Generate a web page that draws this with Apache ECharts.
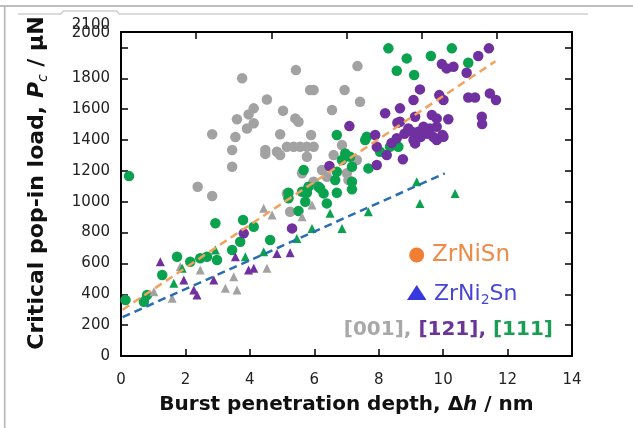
<!DOCTYPE html>
<html><head><meta charset="utf-8">
<script src="https://cdn.jsdelivr.net/npm/echarts@6/dist/echarts.min.js"></script>
<style>html,body{margin:0;padding:0;background:#fff}#c{width:633px;height:428px}</style>
</head><body><div id="c"></div>
<script>
// ---- data (x = burst depth nm, y = critical load uN) ----
const gray001Circle = [[3.76,1800],[5.43,1853],[7.34,1879],[4.53,1663],[4.12,1605],[3.96,1566],[5.03,1590],[3.60,1534],[5.41,1540],[5.51,1518],[4.12,1508],[3.91,1475],[2.83,1437],[3.55,1419],[4.94,1437],[5.87,1724],[5.98,1724],[6.94,1724],[7.42,1648],[6.55,1594],[5.90,1432],[3.45,1335],[4.48,1335],[4.48,1310],[4.84,1324],[4.94,1302],[5.15,1356],[5.36,1356],[5.56,1356],[5.77,1356],[5.98,1356],[6.86,1367],[5.77,1291],[6.60,1302],[6.24,1205],[6.39,1162],[7.01,1184],[7.06,1140],[5.98,1129],[7.32,1270],[5.62,1184],[3.45,1227],[2.38,1097],[2.83,1037],[5.25,935],[5.15,1054]];
const purple121Circle = [[11.42,1994],[11.09,1944],[9.96,1892],[10.11,1864],[10.32,1875],[10.73,1836],[9.28,1728],[9.88,1691],[10.01,1659],[9.08,1659],[10.78,1676],[10.99,1676],[11.45,1702],[11.64,1659],[8.66,1605],[8.20,1573],[9.65,1562],[9.80,1540],[11.20,1551],[11.21,1503],[10.16,1534],[8.58,1512],[8.92,1475],[9.03,1453],[9.23,1453],[9.39,1486],[9.59,1475],[9.80,1486],[9.98,1432],[10.01,1421],[9.80,1400],[9.08,1400],[9.13,1378],[8.56,1411],[7.09,1490],[7.89,1432],[7.94,1356],[8.25,1302],[8.75,1275],[7.94,1238],[6.47,1231],[9.13,1551],[8.66,1518],[8.80,1440],[9.30,1420],[9.50,1440],[9.70,1420],[8.40,1380],[5.31,827],[3.81,795]];
const green111Circle = [[8.30,1994],[10.27,1994],[8.87,1929],[9.62,1944],[10.78,1901],[8.56,1849],[9.10,1821],[6.70,1432],[7.63,1421],[7.58,1400],[8.04,1324],[8.35,1356],[8.61,1356],[6.96,1313],[7.11,1291],[6.86,1270],[7.17,1227],[7.68,1216],[6.70,1194],[6.65,1140],[5.67,1205],[5.82,1097],[6.18,1087],[5.20,1058],[6.70,1058],[7.17,1080],[5.77,1058],[5.62,1065],[5.72,1000],[6.13,1097],[6.29,1054],[6.39,989],[7.17,1129],[5.51,940],[0.14,363],[0.71,352],[0.81,395],[1.28,525],[1.74,643],[2.15,611],[2.46,633],[2.67,643],[2.93,860],[3.79,881],[4.12,838],[4.63,752],[5.20,1022],[2.98,622],[3.70,741],[3.45,687],[0.25,1166]];
const gray001Tri = [[4.43,957],[4.69,914],[3.60,428],[3.24,439],[4.53,568],[1.84,579],[1.59,374],[1.02,417],[2.46,557],[3.50,514],[5.93,978],[5.62,903]];
const purple121Tri = [[1.22,611],[1.95,492],[2.26,428],[2.36,395],[3.55,643],[3.96,557],[4.12,568],[4.84,665],[5.25,670],[2.88,492]];
const green111Tri = [[2.93,687],[3.86,643],[4.43,676],[1.90,568],[1.64,471],[6.49,925],[7.68,935],[9.28,989],[10.37,1054],[6.86,827],[5.93,827],[5.46,762],[9.18,1129]];
const fitZrNiSn = [[0.05,300],[11.62,1910]];
const fitZrNi2Sn = [[0.05,252],[10.05,1184]];
const xTickLabels = [0,2,4,6,8,10,12,14];
const yTickLabels = [0,200,400,600,800,1000,1200,1400,1600,1800,2000];
const yTopLabel = 2100;

const C_GRAY = '#a2a2a2', C_PURPLE = '#7030a0', C_GREEN = '#0aa24e';
const FONT = 'DejaVu Sans';

const chart = echarts.init(document.getElementById('c'), null, {renderer:'canvas'});
const axisLine = {show:true, onZero:false, lineStyle:{color:'#000', width:2}};
const tick = {show:true, inside:true, length:7, lineStyle:{color:'#000', width:1.5}};
function scat(data, sym, size, color){
  return {type:'scatter', data, symbol:sym, symbolSize:size, itemStyle:{color, opacity:1}, xAxisIndex:0, yAxisIndex:0, silent:true};
}
chart.setOption({
  animation:false,
  backgroundColor:'#fff',
  grid:{left:121, right:61, top:32, bottom:72},
  xAxis:[
    {type:'value', min:xTickLabels[0], max:xTickLabels[xTickLabels.length-1], interval:2, position:'bottom',
     axisLine, axisTick:tick, splitLine:{show:false},
     axisLabel:{margin:17, color:'#222', fontSize:15, fontFamily:FONT},
     name:'{b|Burst penetration depth, Δ}{i|h}{b| / nm}', nameLocation:'middle', nameGap:39,
     nameTextStyle:{rich:{b:{fontSize:20, fontWeight:'bold', fontFamily:FONT, color:'#111'}, i:{fontSize:20, fontWeight:'bold', fontStyle:'italic', fontFamily:FONT, color:'#111'}}}},
    {type:'value', min:0, max:6, interval:1, position:'top', axisLine, axisTick:tick, splitLine:{show:false}, axisLabel:{show:false}}
  ],
  yAxis:[
    {type:'value', min:yTickLabels[0], max:yTopLabel, interval:200, position:'left',
     axisLine, axisTick:tick, splitLine:{show:false},
     axisLabel:{margin:11, color:'#222', fontSize:15, fontFamily:FONT,
       formatter:v => v===2000 ? '{u1|2000}' : (v>2000 ? '' : String(v)),
       rich:{u1:{fontSize:15, fontFamily:FONT, color:'#222', padding:[0,0,28,0]}}},
     name:'{b|Critical pop-in load, }{i|P}{s|c}{b| / μN}', nameLocation:'middle', nameGap:71,
     nameTextStyle:{padding:[0,0,0,22], rich:{b:{fontSize:22, fontWeight:'bold', fontFamily:FONT, color:'#111'}, i:{fontSize:22, fontWeight:'bold', fontStyle:'italic', fontFamily:FONT, color:'#111'}, s:{fontSize:14, fontStyle:'italic', fontFamily:FONT, color:'#111', padding:[12,0,0,0]}}}},
    {type:'value', min:yTickLabels[0], max:yTopLabel, interval:200, position:'right',
     axisLine, axisTick:tick, splitLine:{show:false}, axisLabel:{show:false}},
    {type:'value', min:0, max:yTopLabel, interval:yTopLabel, position:'left', offset:0,
     axisLine:{show:false}, axisTick:{show:false}, splitLine:{show:false},
     axisLabel:{margin:11, color:'#222', fontSize:15, fontFamily:FONT,
       formatter:v => v===yTopLabel ? '{u2|' + v + '}' : '',
       rich:{u2:{fontSize:15, fontFamily:FONT, color:'#222', padding:[0,0,13,0]}}}}
  ],
  series:[
    scat(gray001Circle,'circle',10.5,C_GRAY),
    scat(green111Circle,'circle',10.5,C_GREEN),
    scat(purple121Circle,'circle',10.5,C_PURPLE),
    scat(gray001Tri,'triangle',9,C_GRAY),
    scat(purple121Tri,'triangle',9,C_PURPLE),
    scat(green111Tri,'triangle',9,C_GREEN),
    {type:'line', data:fitZrNiSn, showSymbol:false, symbol:'none', silent:true, lineStyle:{color:'#f3a15e', width:2.5, type:[8,5]}},
    {type:'line', data:fitZrNi2Sn, showSymbol:false, symbol:'none', silent:true, lineStyle:{color:'#2a6db0', width:2.5, type:[8,5]}}
  ],
  graphic:[
    {type:'line', shape:{x1:0,y1:6,x2:633,y2:6}, style:{stroke:'#bdbdbd', lineWidth:1.8}, silent:true},
    {type:'line', shape:{x1:4.7,y1:6,x2:4.7,y2:428}, style:{stroke:'#b5b5b5', lineWidth:1.6}, silent:true},
    {type:'polyline', shape:{points:[[18,14],[61,14],[63,11],[117,11],[119,14],[588,14]]}, style:{stroke:'#cfcfcf', lineWidth:1.4, fill:null}, silent:true},
    {type:'circle', shape:{cx:416.7, cy:255, r:7.5}, style:{fill:'#f07e33'}, silent:true},
    {type:'text', x:432, y:255, style:{text:'ZrNiSn', fill:'#ef8a48', font:'23px "DejaVu Sans"', textVerticalAlign:'middle'}, silent:true},
    {type:'polygon', shape:{points:[[407,300],[426.5,300],[416.7,285]]}, style:{fill:'#3838e0'}, silent:true},
    {type:'text', x:434, y:294, style:{text:'{a|ZrNi}{s|2}{a|Sn}', rich:{a:{fontSize:22, fontFamily:FONT, fill:'#4646d6'}, s:{fontSize:14, fontFamily:FONT, fill:'#4646d6', padding:[12,0,0,0]}}, verticalAlign:'middle'}, silent:true},
    {type:'text', x:553, y:330, style:{text:'{g|[001], }{p|[121], }{e|[111]}', align:'right', verticalAlign:'middle',
      rich:{g:{fontSize:20, fontWeight:'bold', fontFamily:FONT, fill:'#a8a8a8'}, p:{fontSize:20, fontWeight:'bold', fontFamily:FONT, fill:'#6a3597'}, e:{fontSize:20, fontWeight:'bold', fontFamily:FONT, fill:'#1a9e56'}}}, silent:true}
  ]
});
</script></body></html>
